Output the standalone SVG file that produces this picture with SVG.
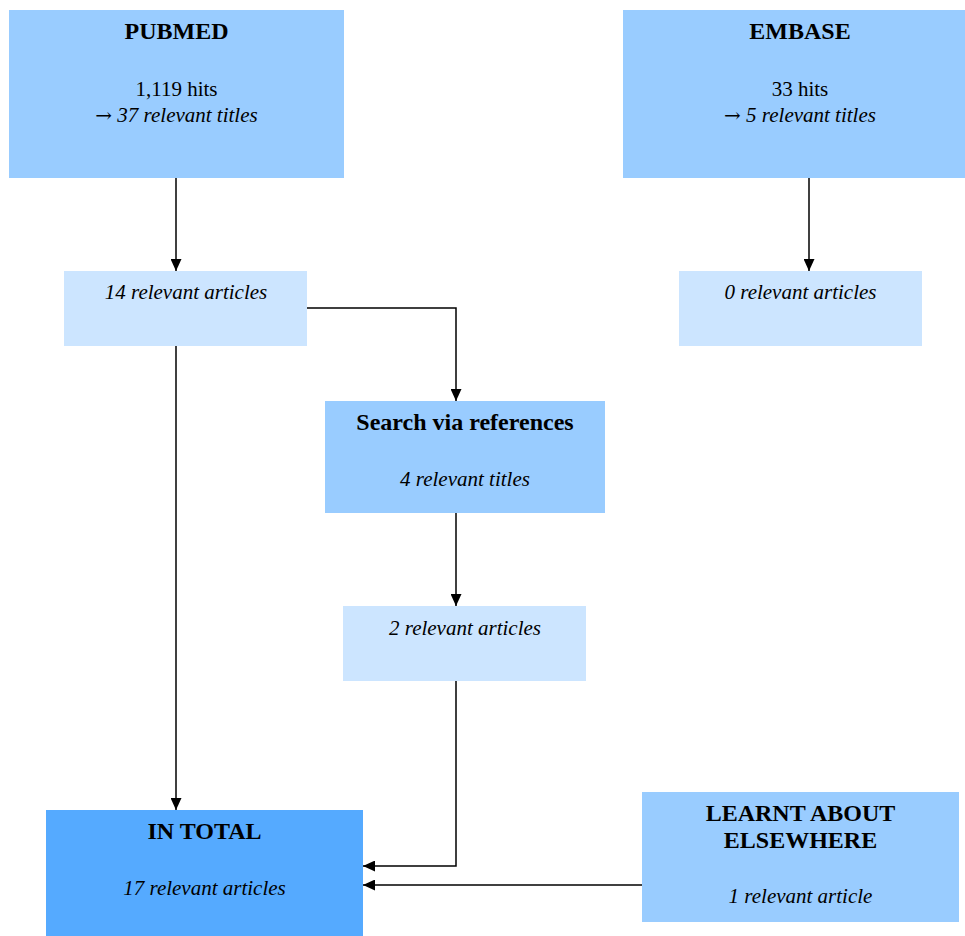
<svg xmlns="http://www.w3.org/2000/svg" width="965" height="936" viewBox="0 0 965 936">
<style>
text{font-family:"Liberation Serif","Times New Roman",serif;fill:#000;text-anchor:middle}
.t{font-weight:bold;font-size:24px}
.b{font-size:21px}
.i{font-size:21px;font-style:italic}
.ar{font-family:"DejaVu Serif",serif;font-style:normal;font-size:20px}
.mid{fill:#99CCFF}
.light{fill:#CCE5FF}
.dark{fill:#55AAFF}
.c{fill:none;stroke:#000;stroke-width:1.5}
</style>
<defs>
<marker id="ah" markerUnits="userSpaceOnUse" markerWidth="12" markerHeight="11" refX="12" refY="5.5" orient="auto">
<path d="M0,0 L12,5.5 L0,11 z" fill="#000"/>
</marker>
</defs>
<rect width="965" height="936" fill="#fff"/>
<g id="pubmed">
<rect class="mid" x="9" y="10" width="335" height="168"/>
<text class="t" x="176.5" y="39">PUBMED</text>
<text class="b" x="176.5" y="96">1,119 hits</text>
<text class="i" x="176.5" y="122"><tspan class="ar">→</tspan> 37 relevant titles</text>
</g>
<g id="embase">
<rect class="mid" x="623" y="10" width="342" height="168"/>
<text class="t" x="800" y="39">EMBASE</text>
<text class="b" x="800" y="96">33 hits</text>
<text class="i" x="800" y="122"><tspan class="ar">→</tspan> 5 relevant titles</text>
</g>
<g id="pubmed-articles">
<rect class="light" x="64" y="271" width="243" height="75"/>
<text class="i" x="186" y="299">14 relevant articles</text>
</g>
<g id="embase-articles">
<rect class="light" x="679" y="271" width="243" height="75"/>
<text class="i" x="800.5" y="299">0 relevant articles</text>
</g>
<g id="references">
<rect class="mid" x="325" y="401" width="280" height="112"/>
<text class="t" x="465" y="430">Search via references</text>
<text class="i" x="465" y="486">4 relevant titles</text>
</g>
<g id="references-articles">
<rect class="light" x="343" y="606" width="243" height="75"/>
<text class="i" x="465" y="635">2 relevant articles</text>
</g>
<g id="total">
<rect class="dark" x="46" y="810" width="317" height="126"/>
<text class="t" x="204.5" y="839">IN TOTAL</text>
<text class="i" x="204.5" y="895">17 relevant articles</text>
</g>
<g id="elsewhere">
<rect class="mid" x="642" y="792" width="317" height="130"/>
<text class="t" x="800.5" y="821">LEARNT ABOUT</text>
<text class="t" x="800.5" y="848">ELSEWHERE</text>
<text class="i" x="800.5" y="903">1 relevant article</text>
</g>
<g id="connectors">
<path class="c" d="M176,178 V271" marker-end="url(#ah)"/>
<path class="c" d="M809,178 V271" marker-end="url(#ah)"/>
<path class="c" d="M307,308 H456 V401" marker-end="url(#ah)"/>
<path class="c" d="M456,513 V606" marker-end="url(#ah)"/>
<path class="c" d="M176,346 V810" marker-end="url(#ah)"/>
<path class="c" d="M456,681 V866 H363" marker-end="url(#ah)"/>
<path class="c" d="M642,885 H363" marker-end="url(#ah)"/>
</g>
</svg>
